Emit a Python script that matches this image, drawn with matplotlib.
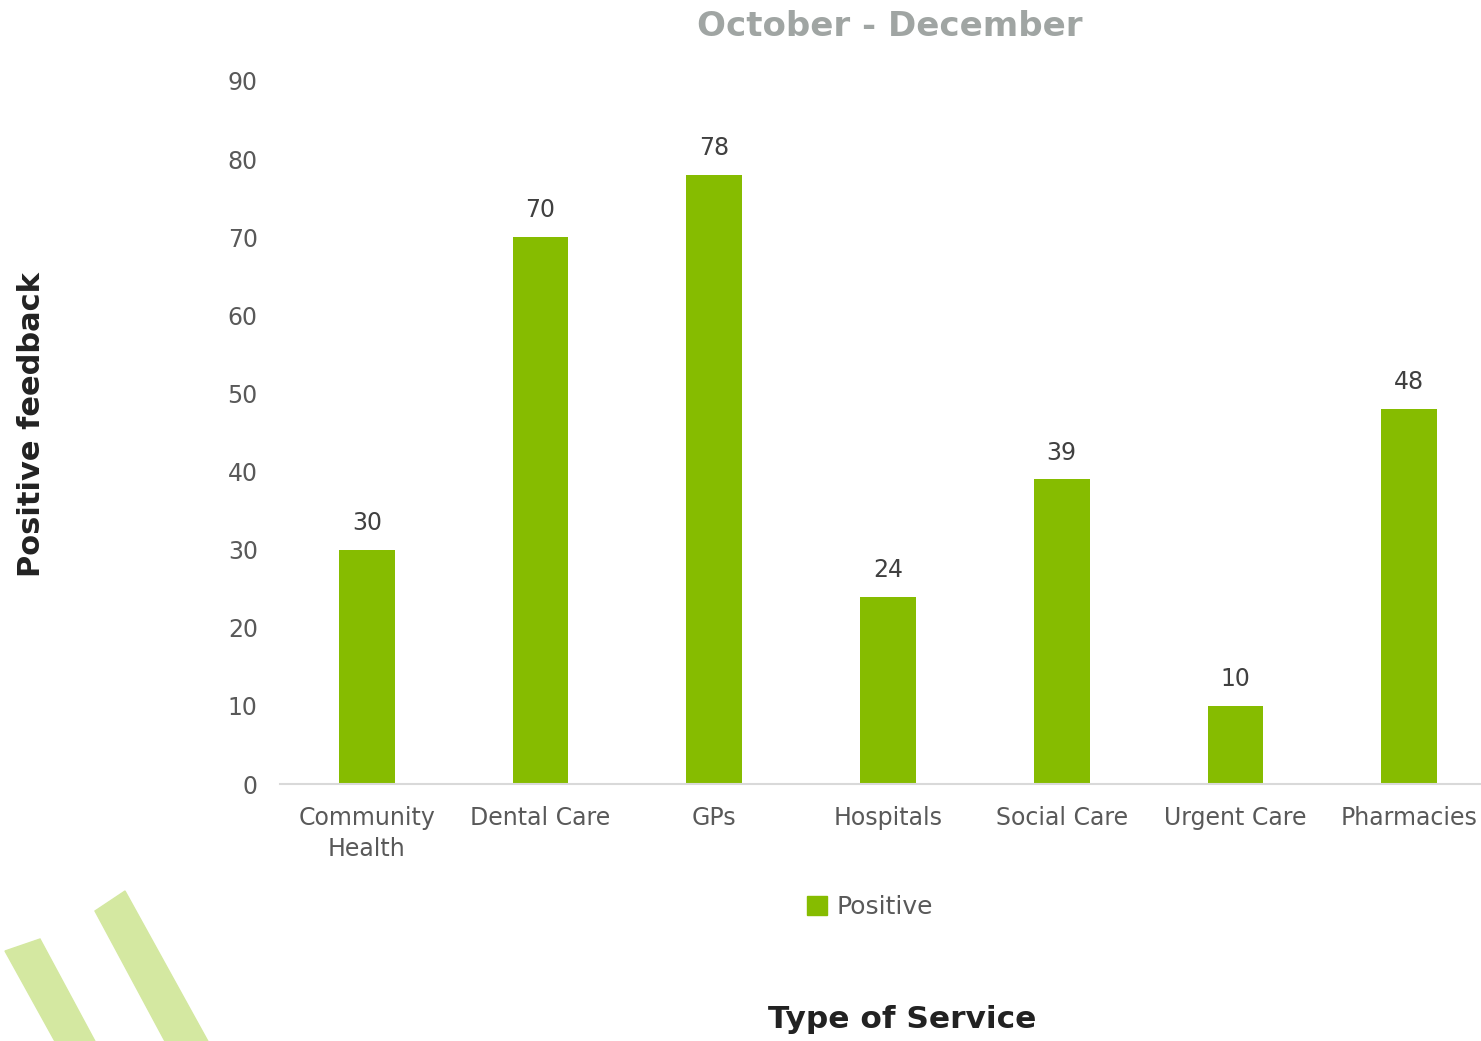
import matplotlib
matplotlib.use("Agg")
import matplotlib.pyplot as plt
import matplotlib.patches as mpatches

categories = ["Community\nHealth", "Dental Care", "GPs", "Hospitals",
              "Social Care", "Urgent Care", "Pharmacies"]
positive = [30, 70, 78, 24, 39, 10, 48]
yticks = [0, 10, 20, 30, 40, 50, 60, 70, 80, 90]

GREEN = "#86BC00"
STRIPE = "#D4E8A1"
TEXT = "#404040"
TICK = "#595959"

plt.rcParams["font.family"] = ["DejaVu Sans"]

W, H = 1481, 1041
fig = plt.figure(figsize=(W / 100, H / 100), dpi=100)

# plot area: zero line at y=784, 90 at y=81; category band ~174 px
left, right = 280 / W, 1496 / W
bottom, top = 1 - 784 / H, 1 - 81 / H
ax = fig.add_axes([left, bottom, right - left, top - bottom])

x = range(len(categories))
ax.bar(x, positive, width=0.32, color=GREEN, label="Positive", zorder=2)
for xi, v in zip(x, positive):
    ax.text(xi, v + 1.9, str(v), ha="center", va="bottom", fontsize=17, color=TEXT)

ax.set_xlim(-0.5, len(categories) - 0.5)
ax.set_ylim(0, 90)
ax.set_yticks(yticks)
ax.set_xticks(list(x))
ax.set_xticklabels(categories, fontsize=17, color=TICK, linespacing=1.35)
ax.tick_params(axis="y", labelsize=17, labelcolor=TICK, length=0, pad=16)
ax.tick_params(axis="x", length=0, pad=16)
for s in ["top", "right", "left"]:
    ax.spines[s].set_visible(False)
ax.spines["bottom"].set_color("#D9D9D9")
ax.spines["bottom"].set_linewidth(1.5)

fig.text(890 / W, 1 - 26 / H, "October - December", ha="center", va="center",
         fontsize=24.5, fontweight="bold", color="#A0A5A3")
fig.text(32 / W, 1 - 425 / H, "Positive feedback", ha="center", va="center",
         rotation=90, fontsize=22, fontweight="bold", color="#222222")
fig.text(902 / W, 1 - 1020 / H, "Type of Service", ha="center", va="center",
         fontsize=22.5, fontweight="bold", color="#222222")

fig.legend(handles=[mpatches.Patch(color=GREEN, label="Positive")],
           loc="center", bbox_to_anchor=(870 / W, 1 - 907 / H), frameon=False,
           fontsize=18, handlelength=0.8, handleheight=0.8, handletextpad=0.4,
           labelcolor=TICK)

# decorative stripes, bottom left
def px(pts):
    return [(px_ / W, 1 - py_ / H) for px_, py_ in pts]

fig.patches.append(mpatches.Polygon(px([(5, 951), (40, 939), (97, 1045), (57, 1045)]),
                                    closed=True, color=STRIPE, transform=fig.transFigure))
fig.patches.append(mpatches.Polygon(px([(95, 911), (125, 891), (210, 1045), (167, 1045)]),
                                    closed=True, color=STRIPE, transform=fig.transFigure))

fig.savefig("out.png", dpi=100)
